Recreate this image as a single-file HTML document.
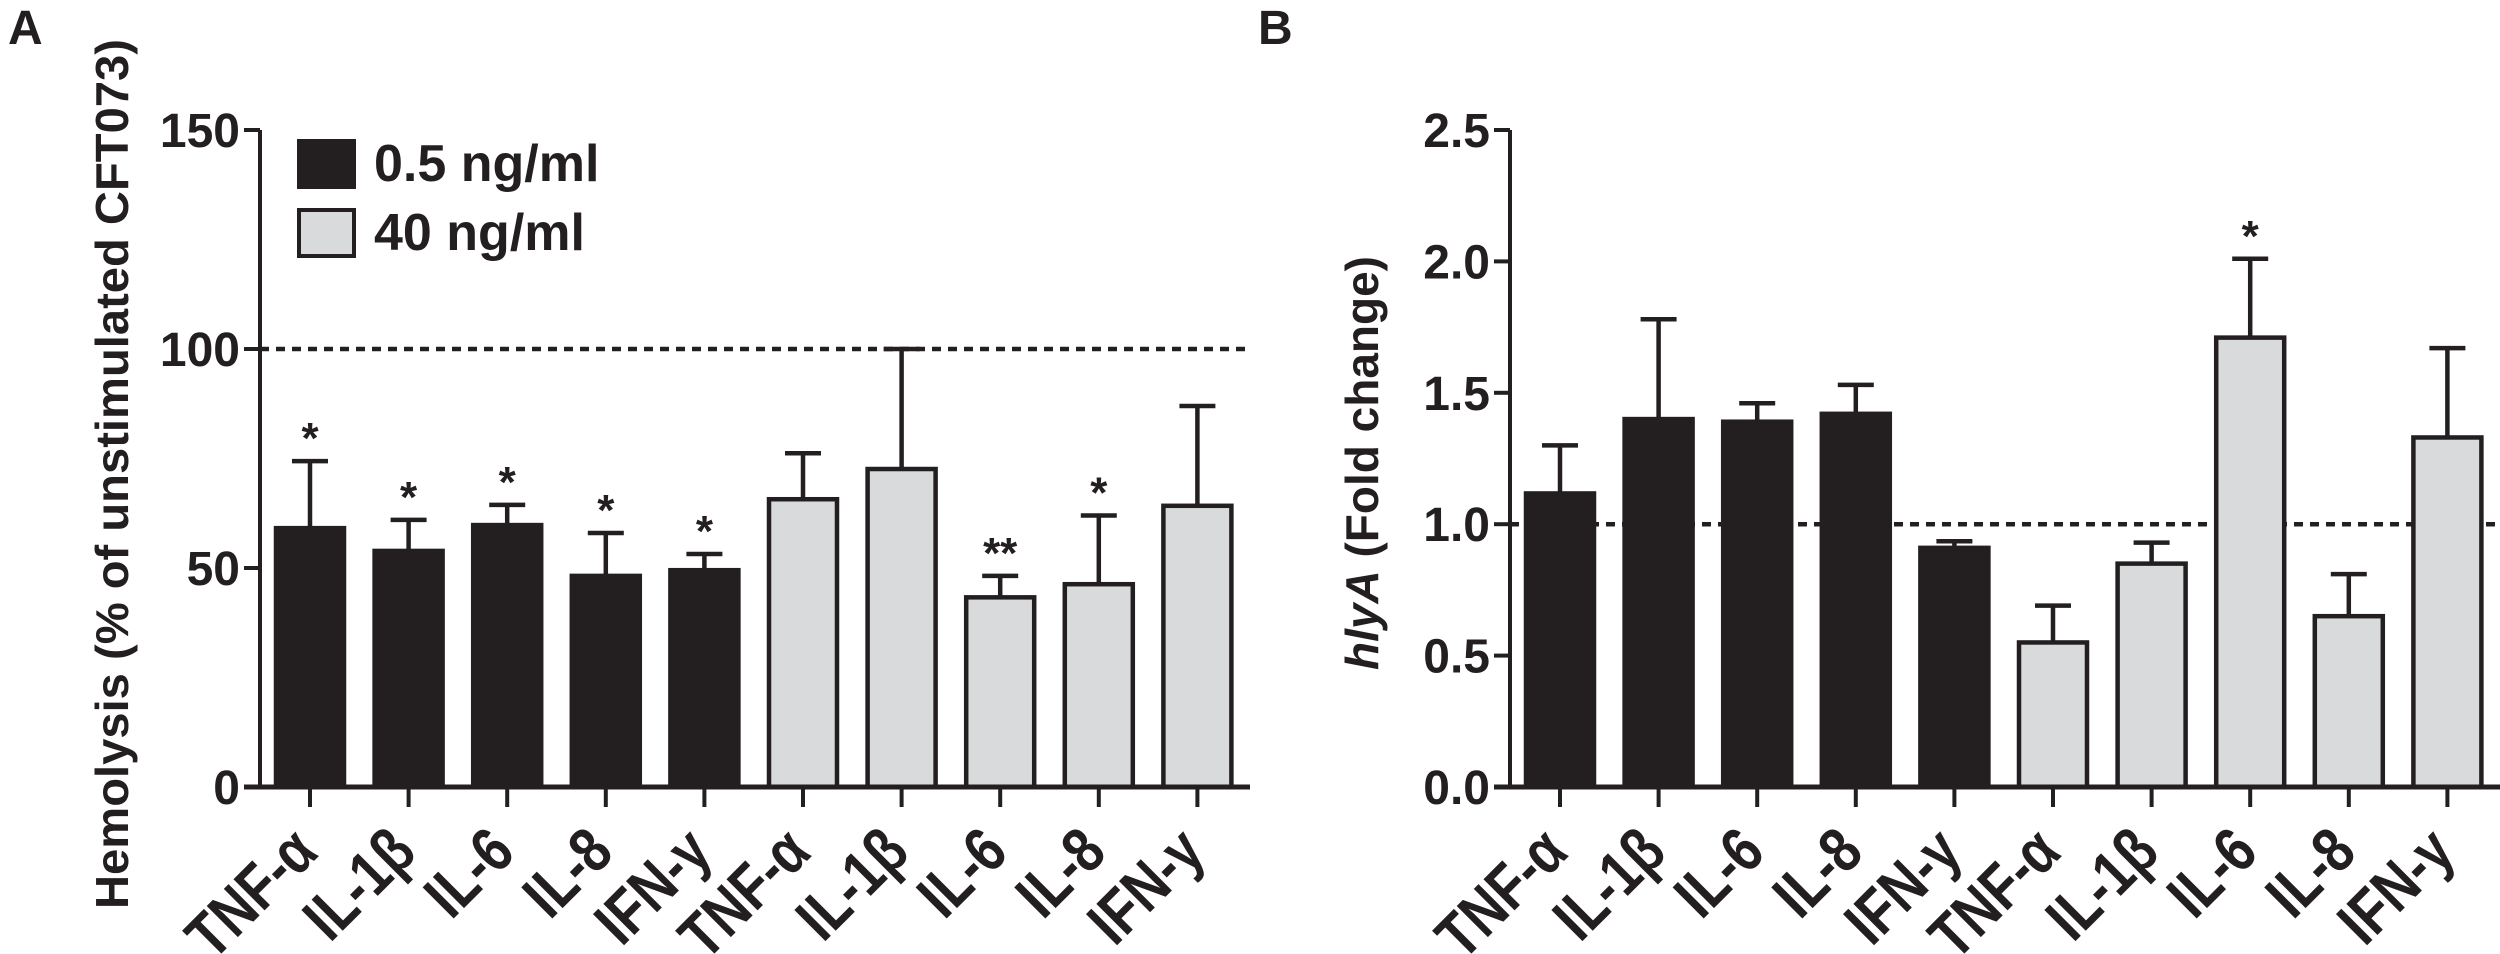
<!DOCTYPE html>
<html><head><meta charset="utf-8"><style>
html,body{margin:0;padding:0;background:#fff;width:2500px;height:954px;overflow:hidden}
svg text{font-family:"Liberation Sans",sans-serif;font-weight:bold;fill:#231f20}
</style></head><body>
<svg id="fig" width="2500" height="954" viewBox="0 0 2500 954" xmlns="http://www.w3.org/2000/svg">
<text x="8" y="44" font-size="48">A</text>
<text x="1258" y="44" font-size="48">B</text>
<g id="pa"></g>
<g id="pb"></g>
</svg>
<script>
const categories = ["TNF-\u03b1","IL-1\u03b2","IL-6","IL-8","IFN-y","TNF-\u03b1","IL-1\u03b2","IL-6","IL-8","IFN-y"];
const groups = ["dark","dark","dark","dark","dark","light","light","light","light","light"];
const hemolysisMeans = [59.1,53.9,59.8,48.2,49.5,65.7,72.6,43.3,46.3,64.2];
const hemolysisErrTops = [74.4,61,64.4,58,53.2,76.2,100,48.2,62,87];
const hemolysisStars = ["*","*","*","*","*","","","**","*",""];
const hemolysisTicks = [0,50,100,150];
const hlyaMeans = [1.117,1.40,1.39,1.42,0.91,0.55,0.85,1.71,0.65,1.33];
const hlyaErrTops = [1.30,1.78,1.46,1.53,0.935,0.69,0.93,2.01,0.81,1.67];
const hlyaStars = ["","","","","","","","*","",""];
const hlyaTicks = ["0.0","0.5","1.0","1.5","2.0","2.5"];
const legendLabels = ["0.5 ng/ml","40 ng/ml"];

const NS="http://www.w3.org/2000/svg";
function mk(parent,tag,attrs,txt){const e=document.createElementNS(NS,tag);for(const k in attrs)e.setAttribute(k,attrs[k]);if(txt!==undefined)e.textContent=txt;parent.appendChild(e);return e;}
const FILL={dark:"#231f20",light:"#d9dadb"};

function drawPanel(g,cfg){
  const x0=cfg.x0, x1=cfg.x1, yTop=130, yBot=787;
  const y=v=>yBot-(v-cfg.min)/(cfg.max-cfg.min)*(yBot-yTop);
  const step=98.6, first=x0+50;
  const xc=i=>first+i*step;
  const dl=mk(g,"line",{x1:x0,x2:x1,y1:y(cfg.ref),y2:y(cfg.ref),stroke:"#231f20","stroke-width":4.5,"stroke-dasharray":"9 7"});
  
  
  cfg.means.forEach((m,i)=>{
    const cx=xc(i), bw=68;
    const eb=mk(g,"line",{x1:cx,x2:cx,y1:y(m),y2:y(cfg.errs[i]),stroke:"#231f20","stroke-width":4.5});
    
    
    const cap=mk(g,"line",{x1:cx-18,x2:cx+18,y1:y(cfg.errs[i]),y2:y(cfg.errs[i]),stroke:"#231f20","stroke-width":4.5});
    
    
    const r=mk(g,"rect",{x:cx-bw/2,y:y(m),width:bw,height:yBot-y(m),fill:FILL[groups[i]],stroke:"#231f20","stroke-width":4.5});
    
    
    if(cfg.stars[i]){
      const s=mk(g,"text",{x:cx,y:y(cfg.errs[i])-8,"font-size":44,"text-anchor":"middle"},cfg.stars[i]);
      
      
    }
    const t=mk(g,"line",{x1:cx,x2:cx,y1:yBot,y2:yBot+20,stroke:"#231f20","stroke-width":4});
    
    
    const lb=mk(g,"text",{x:0,y:0,"font-size":64,"text-anchor":"end",transform:`translate(${cx+10},${yBot+68}) rotate(-45) scale(0.82,1)`},categories[i]);
    
    
  });
  const ya=mk(g,"line",{x1:x0,x2:x0,y1:yTop,y2:yBot+2,stroke:"#231f20","stroke-width":4});
  
  
  const xa=mk(g,"line",{x1:x0-16,x2:x1,y1:yBot,y2:yBot,stroke:"#231f20","stroke-width":5});
  
  
  cfg.ticks.forEach(tv=>{
    const v=parseFloat(tv);
    const tk=mk(g,"line",{x1:x0-16,x2:x0,y1:y(v),y2:y(v),stroke:"#231f20","stroke-width":4});
    
    
    const tl=mk(g,"text",{x:x0-20,y:y(v)+17,"font-size":48,"text-anchor":"end"},String(tv));
    
    
  });
}

const pa=document.getElementById("pa");
drawPanel(pa,{x0:260,x1:1250,min:0,max:150,ref:100,means:hemolysisMeans,errs:hemolysisErrTops,stars:hemolysisStars,ticks:hemolysisTicks});
const pb=document.getElementById("pb");
drawPanel(pb,{x0:1510,x1:2500,min:0,max:2.5,ref:1.0,means:hlyaMeans,errs:hlyaErrTops,stars:hlyaStars,ticks:hlyaTicks});

const ta=mk(pa,"text",{x:0,y:0,"font-size":46,"text-anchor":"middle",transform:"translate(128,474) rotate(-90)",textLength:870,lengthAdjust:"spacingAndGlyphs"},"Hemolysis (% of unstimulated CFT073)");


const tb=mk(pb,"text",{x:0,y:0,"font-size":46,"text-anchor":"middle",transform:"translate(1378,463) rotate(-90)"});


mk(tb,"tspan",{"font-style":"italic"},"hlyA");
mk(tb,"tspan",{},"\u00a0(Fold change)");

const lg=mk(pa,"g",{});


[["dark",141],["light",210]].forEach((d,i)=>{
  const b=mk(lg,"rect",{x:299,y:d[1],width:55,height:46,fill:FILL[d[0]],stroke:"#231f20","stroke-width":4});
  
  
  const t=mk(lg,"text",{x:374,y:d[1]+40,"font-size":52},legendLabels[i]);
  
  
});
</script>
</body></html>
